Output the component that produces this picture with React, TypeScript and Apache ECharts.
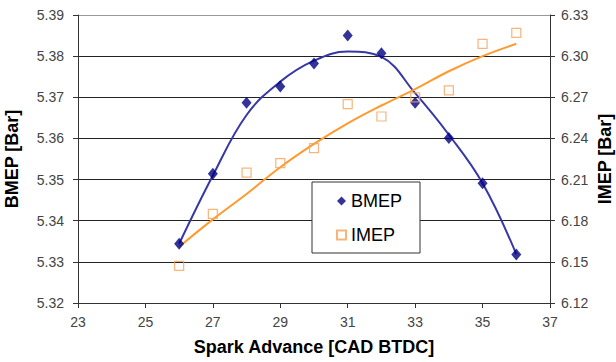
import React, { useEffect, useRef } from "react";
import * as echarts from "echarts";

// Spark advance sweep [CAD BTDC]
const sparkAdvance = [26, 27, 28, 29, 30, 31, 32, 33, 34, 35, 36];

// Measured brake mean effective pressure [Bar]
const bmep = [5.3344, 5.3514, 5.3687, 5.3726, 5.3782, 5.385, 5.3807, 5.3687, 5.3601, 5.3491, 5.3318];
// Measured indicated mean effective pressure [Bar]
const imep = [6.147, 6.185, 6.215, 6.222, 6.233, 6.265, 6.256, 6.27, 6.275, 6.309, 6.317];

// Trend lines through the measurements
const bmepTrend = [5.3344, 5.351, 5.3657, 5.3738, 5.3789, 5.3811, 5.3798, 5.371, 5.3609, 5.3491, 5.3319];
const imepTrend = [6.161, 6.181, 6.1995, 6.219, 6.236, 6.251, 6.264, 6.276, 6.289, 6.3, 6.309];

// Axis ticks
const xTicks = [23, 25, 27, 29, 31, 33, 35, 37];
const leftTicks = [5.32, 5.33, 5.34, 5.35, 5.36, 5.37, 5.38, 5.39];
const rightTicks = [6.12, 6.15, 6.18, 6.21, 6.24, 6.27, 6.3, 6.33];

const pairs = (xs: number[], ys: number[]) => xs.map((x, i) => [x, ys[i]]);

const FONT = "Liberation Sans, Arial, sans-serif";

export default function App() {
  const ref = useRef<HTMLDivElement>(null);

  useEffect(() => {
    if (!ref.current) return;
    const chart = echarts.init(ref.current, null, { renderer: "svg" });
    const tickLabel = { color: "#444", fontSize: 14, fontFamily: FONT };
    const nameStyle = {
      color: "#000",
      fontSize: 18,
      lineHeight: 18,
      fontWeight: "bold" as const,
      fontFamily: FONT,
    };
    const axisLine = { show: true, lineStyle: { color: "#333", width: 1 } };

    chart.setOption({
      animation: false,
      backgroundColor: "#fff",
      grid: {
        left: 78,
        right: 66,
        top: 15,
        bottom: 59,
        show: false,
        containLabel: false,
        outerBoundsMode: "none",
      },
      legend: {
        left: 312,
        top: 182,
        orient: "vertical",
        data: ["BMEP", "IMEP"],
        padding: [10, 18, 9, 24],
        itemGap: 16,
        itemWidth: 9,
        itemHeight: 9,
        backgroundColor: "#fff",
        borderColor: "#333",
        borderWidth: 1,
        borderRadius: 0,
        textStyle: { color: "#000", fontSize: 18, fontFamily: FONT },
      },
      xAxis: {
        type: "value",
        min: xTicks[0],
        max: xTicks[xTicks.length - 1],
        name: "Spark Advance [CAD BTDC]",
        nameLocation: "middle",
        nameGap: 35,
        nameTextStyle: nameStyle,
        axisLine,
        axisTick: { show: true, length: 5, customValues: xTicks, lineStyle: { color: "#333" } },
        axisLabel: { ...tickLabel, margin: 12, customValues: xTicks },
        splitLine: { show: false },
      },
      yAxis: [
        {
          type: "value",
          min: leftTicks[0],
          max: leftTicks[leftTicks.length - 1],
          interval: 0.01,
          name: "BMEP [Bar]",
          nameLocation: "middle",
          nameGap: 57,
          nameTextStyle: nameStyle,
          axisLine,
          axisTick: { show: true, length: 5, lineStyle: { color: "#333" } },
          axisLabel: { ...tickLabel, margin: 14, formatter: (v: number) => v.toFixed(2) },
          splitLine: {
            show: true,
            lineStyle: {
              color: ["#333", "#222", "#222", "#222", "#222", "#222", "#222", "#999"],
              width: 1,
            },
          },
        },
        {
          type: "value",
          min: rightTicks[0],
          max: rightTicks[rightTicks.length - 1],
          interval: 0.03,
          position: "right",
          name: "IMEP [Bar]",
          nameLocation: "middle",
          nameGap: 46,
          nameMoveOverlap: false,
          nameTextStyle: nameStyle,
          axisLine,
          axisTick: { show: true, length: 5, lineStyle: { color: "#333" } },
          axisLabel: { ...tickLabel, margin: 11, formatter: (v: number) => v.toFixed(2) },
          splitLine: { show: false },
        },
      ],
      series: [
        {
          name: "BMEP trend",
          type: "line",
          yAxisIndex: 0,
          data: pairs(sparkAdvance, bmepTrend),
          smooth: 0.4,
          symbol: "none",
          lineStyle: { color: "#3737a5", width: 2 },
          z: 2,
        },
        {
          name: "IMEP trend",
          type: "line",
          yAxisIndex: 1,
          data: pairs(sparkAdvance, imepTrend),
          smooth: 0.4,
          symbol: "none",
          lineStyle: { color: "#ff9a2e", width: 2 },
          z: 2,
        },
        {
          name: "BMEP",
          type: "scatter",
          yAxisIndex: 0,
          data: pairs(sparkAdvance, bmep),
          symbol: "diamond",
          symbolSize: [10, 12],
          itemStyle: { color: "#000080" },
          z: 3,
        },
        {
          name: "IMEP",
          type: "scatter",
          yAxisIndex: 1,
          data: pairs(sparkAdvance, imep),
          symbol: "rect",
          symbolSize: 9,
          itemStyle: { color: "rgba(255,255,255,0)", borderColor: "#f5a25a", borderWidth: 1.2 },
          z: 3,
        },
      ],
    });

    return () => chart.dispose();
  }, []);

  return (
    <div
      ref={ref}
      style={{ position: "absolute", left: 0, top: 0, width: 616, height: 362 }}
    />
  );
}
